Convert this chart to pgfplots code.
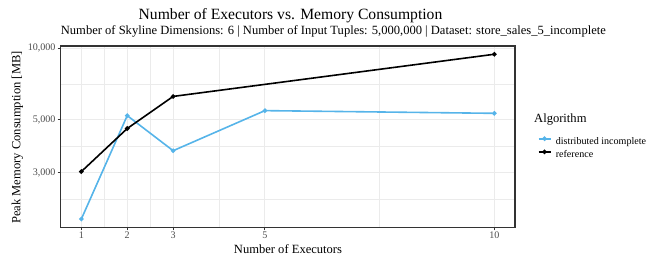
\documentclass[border=0pt]{standalone}
\usepackage{pgfplots}
\pgfplotsset{compat=1.18}
\usepackage{fontspec}
\setmainfont{Liberation Serif}
\definecolor{skyblue}{HTML}{56B4E9}
\definecolor{gridgrey}{HTML}{EBEBEB}
\definecolor{grey30}{HTML}{4D4D4D}
\definecolor{grey20}{HTML}{333333}
\begin{document}
\begin{tikzpicture}[x=1bp,y=1bp]
\useasboundingbox (0,0) rectangle (656,259);
\begin{axis}[
  at={(60.7bp,31.7bp)}, anchor=south west,
  scale only axis, width=454.3bp, height=181.3bp,
  xmin=0.55, xmax=10.45,
  ymode=log, ymin=1765, ymax=10226,
  xtick={1,2,3,5,10},
  minor xtick={1.5,2.5,4,7.5},
  ytick={3000,5000,10000},
  yticklabels={{3,000},{5,000},{10,000}},
  minor ytick={2324,3873,7071},
  grid=both,
  major grid style={draw=gridgrey, line width=1.1bp},
  minor grid style={draw=gridgrey, line width=0.55bp},
  axis line style={draw=grey20, line width=1.1bp},
  tick style={draw=grey20, line width=1.1bp},
  tick align=outside, major tick length=3bp, minor tick length=0bp,
  tick pos=left,
  /pgf/number format/assume math mode=true,
  ticklabel style={font=\fontsize{10.1}{12}\selectfont, text=grey30},
  xticklabel style={inner sep=1.5bp},
  yticklabel style={inner sep=2bp},
  legend style={at={(1.043,0.5105)}, anchor=north west, draw=none, fill=none,
    font=\fontsize{10.1}{12}\selectfont, row sep=3.6bp,
    nodes={inner sep=0bp, text height=7.2bp, text depth=2.4bp},
    /tikz/every odd column/.append style={column sep=4.5bp}},
  legend cell align=left,
  legend image code/.code={\draw[#1, mark repeat=2, mark phase=2] plot coordinates {(0bp,3bp) (6bp,3bp) (12bp,3bp)};},
]
\addplot[color=skyblue, line width=1.6bp, mark=*, mark size=1.4bp, mark options={draw=skyblue, fill=skyblue}]
  coordinates {(1,1912) (2,5209) (3,3707) (5,5466) (10,5325)};
\addlegendentry{distributed incomplete}
\addplot[color=black, line width=1.6bp, mark=*, mark size=1.4bp, mark options={draw=black, fill=black}]
  coordinates {(1,3028) (2,4596) (3,6273) (10,9439)};
\addlegendentry{reference}
\end{axis}
\node[anchor=base, font=\fontsize{15.7}{18}\selectfont] at (290.5,239.5) {Number of Executors vs. Memory Consumption};
\node[anchor=base west, inner sep=0, font=\fontsize{12.6}{15}\selectfont] at (60.7,224.5) {Number of Skyline Dimensions: 6 | Number of Input Tuples: 5,000,000 | Dataset: store\_sales\_5\_incomplete};
\node[anchor=base, font=\fontsize{12.6}{15}\selectfont] at (288,5.7) {Number of Executors};
\node[anchor=base, rotate=90, font=\fontsize{12.6}{15}\selectfont] at (20.3,121.5) {Peak Memory Consumption [MB]};
\node[anchor=base west, inner sep=0, font=\fontsize{12.6}{15}\selectfont] at (534,136.3) {Algorithm};
\end{tikzpicture}
\end{document}
